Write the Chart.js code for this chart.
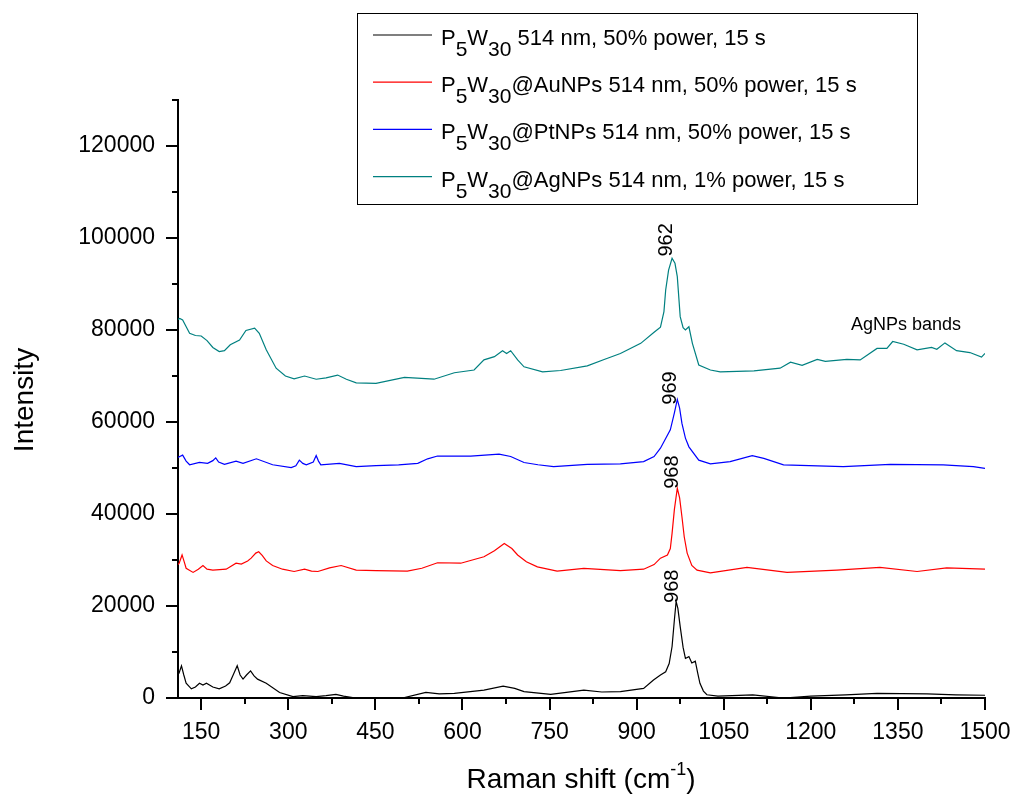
<!DOCTYPE html>
<html>
<head>
<meta charset="utf-8">
<title>Raman spectra</title>
<script src="https://cdn.jsdelivr.net/npm/chart.js@4.4.1/dist/chart.umd.min.js"></script>
<style>
  html, body { margin: 0; padding: 0; background: #fff; }
  #wrap { width: 1014px; height: 796px; position: relative; }
</style>
</head>
<body>
<div id="wrap"><canvas id="chart" width="1014" height="796"></canvas></div>
<script>
"use strict";

// ── Data ──────────────────────────────────────────────────────────────────
const blackX = [110, 112, 116, 120, 124, 133, 140, 147, 153, 159, 170, 181, 192, 199, 205, 212, 217, 222, 228, 235, 241, 247, 262, 285, 308, 325, 348, 365, 382, 395, 411, 451, 500, 537, 560, 586, 637, 670, 690, 706, 752, 809, 840, 872, 912, 929, 941, 950, 956, 961, 965, 968, 971, 975, 980, 984, 990, 995, 1001, 1005, 1009, 1015, 1021, 1040, 1100, 1153, 1200, 1260, 1314, 1400, 1450, 1500];
const blackY = [5000, 5500, 7000, 5000, 3200, 2000, 2400, 3200, 2800, 3200, 2400, 2000, 2600, 3300, 5000, 7000, 5000, 4100, 5000, 5900, 4800, 4100, 3200, 1200, 300, 500, 300, 500, 800, 400, 100, 0, 100, 1200, 900, 1000, 1700, 2600, 2100, 1400, 800, 1700, 1300, 1400, 2100, 3900, 5000, 5700, 7500, 11200, 17000, 21000, 19500, 15500, 11000, 8600, 9000, 7600, 8000, 5500, 3200, 1500, 700, 400, 700, 0, 400, 700, 1000, 900, 700, 600];

const redX = [110, 112, 117, 121, 124, 136, 145, 153, 160, 170, 193, 210, 219, 230, 236, 244, 249, 255, 262, 273, 290, 310, 328, 340, 351, 371, 391, 417, 451, 505, 530, 557, 597, 637, 655, 672, 685, 695, 710, 729, 763, 809, 872, 912, 930, 941, 953, 958, 961, 965, 970, 974, 978, 982, 987, 995, 1004, 1027, 1090, 1159, 1245, 1319, 1383, 1434, 1500];
const redY = [29000, 29300, 31100, 29500, 28200, 27300, 28000, 28800, 28000, 27800, 28000, 29300, 29100, 29800, 30400, 31500, 31800, 31000, 29800, 28800, 28000, 27500, 28000, 27600, 27500, 28300, 28800, 27800, 27700, 27600, 28200, 29400, 29300, 30700, 32000, 33600, 32500, 31100, 29600, 28500, 27600, 28200, 27700, 28000, 29000, 30400, 31100, 32500, 35800, 41000, 45600, 43500, 39400, 35000, 31500, 28800, 27800, 27200, 28400, 27300, 27800, 28400, 27500, 28300, 28000];

const blueX = [110, 113, 118, 124, 130, 147, 161, 170, 175, 180, 190, 210, 222, 245, 273, 305, 313, 319, 325, 331, 343, 348, 352, 356, 388, 417, 451, 490, 523, 540, 557, 614, 663, 683, 706, 730, 757, 815, 872, 912, 930, 941, 958, 965, 970, 974, 978, 984, 990, 1007, 1027, 1061, 1099, 1119, 1153, 1256, 1337, 1428, 1480, 1500];
const blueY = [52300, 52500, 52800, 51500, 50700, 51200, 51000, 51600, 52200, 51300, 50800, 51500, 51000, 52000, 50700, 50100, 50500, 51700, 51000, 50700, 51300, 52700, 51500, 50700, 51000, 50300, 50500, 50700, 51000, 52000, 52600, 52600, 53000, 52500, 51200, 50700, 50300, 50800, 50900, 51400, 52500, 54300, 58300, 62000, 64900, 63000, 59700, 56500, 54600, 51700, 50900, 51400, 52700, 52100, 50700, 50300, 50800, 50700, 50300, 49900];

const greenX = [110, 113, 118, 125, 130, 140, 150, 160, 170, 181, 190, 200, 216, 227, 242, 250, 262, 279, 295, 310, 328, 348, 365, 385, 400, 417, 451, 500, 551, 586, 620, 637, 655, 669, 676, 683, 695, 706, 738, 769, 815, 844, 872, 907, 930, 941, 947, 950, 955, 961, 966, 970, 975, 980, 984, 990, 996, 1007, 1027, 1044, 1102, 1147, 1165, 1185, 1211, 1225, 1262, 1285, 1314, 1331, 1341, 1360, 1383, 1408, 1417, 1431, 1451, 1474, 1494, 1500];
const greenY = [82300, 82500, 82200, 80500, 79300, 78800, 78700, 77700, 76200, 75300, 75500, 76800, 77800, 79900, 80400, 79300, 75700, 71700, 70000, 69400, 70000, 69300, 69600, 70200, 69300, 68500, 68400, 69700, 69300, 70700, 71300, 73500, 74200, 75500, 74900, 75500, 73500, 72000, 70900, 71200, 72200, 73600, 74900, 77100, 79500, 80600, 84000, 88700, 93000, 95600, 94500, 91600, 82900, 80500, 80000, 80700, 77100, 72400, 71300, 70900, 71100, 71700, 73000, 72300, 73600, 73200, 73600, 73500, 76000, 76000, 77500, 76900, 75700, 76200, 75800, 77200, 75500, 75100, 74100, 74900];

const seriesColors = ["#000000", "#ff0000", "#0000ff", "#008080"];
// legend rows: [text, subscript?]
const legendRows = [
  [["P", 0], ["5", 1], ["W", 0], ["30", 1], [" 514 nm, 50% power, 15 s", 0]],
  [["P", 0], ["5", 1], ["W", 0], ["30", 1], ["@AuNPs 514 nm, 50% power, 15 s", 0]],
  [["P", 0], ["5", 1], ["W", 0], ["30", 1], ["@PtNPs 514 nm, 50% power, 15 s", 0]],
  [["P", 0], ["5", 1], ["W", 0], ["30", 1], ["@AgNPs 514 nm, 1% power, 15 s", 0]],
];

// ticks
const xMajor = [150, 300, 450, 600, 750, 900, 1050, 1200, 1350, 1500];
const xMinor = [225, 375, 525, 675, 825, 975, 1125, 1275, 1425];
const yMajor = [0, 20000, 40000, 60000, 80000, 100000, 120000];
const yMinor = [10000, 30000, 50000, 70000, 90000, 110000, 130000];

// peak labels (rotated) and free text
const peakText = ["962", "969", "968", "968"];
const peakX    = [951, 958, 962, 962];
const peakY    = [99600, 67400, 49100, 24300];
const noteText = "AgNPs bands";
const noteX = 1364, noteY = 81100;

const FONT = "'Liberation Sans', Arial, sans-serif";

// ── Helpers ───────────────────────────────────────────────────────────────
function pts(xs, ys) { return xs.map((x, i) => ({ x: x, y: ys[i] })); }

function lineSet(xs, ys, color) {
  return {
    data: pts(xs, ys),
    borderColor: color,
    borderWidth: 1.2,
    pointRadius: 0,
    tension: 0,
    fill: false,
  };
}

// ── Custom drawing: ticks, legend, titles, annotations ────────────────────
const decorPlugin = {
  id: "decor",
  afterDraw(chart) {
    const ctx = chart.ctx;
    const xs = chart.scales.x, ys = chart.scales.y;
    const area = chart.chartArea;

    // outward tick marks
    ctx.save();
    ctx.strokeStyle = "#000";
    ctx.lineWidth = 2;
    ctx.beginPath();
    xMajor.forEach(v => { const p = Math.round(xs.getPixelForValue(v)); ctx.moveTo(p, area.bottom); ctx.lineTo(p, area.bottom + 12); });
    xMinor.forEach(v => { const p = Math.round(xs.getPixelForValue(v)); ctx.moveTo(p, area.bottom); ctx.lineTo(p, area.bottom + 6); });
    yMajor.forEach(v => { const p = Math.round(ys.getPixelForValue(v)); ctx.moveTo(area.left, p); ctx.lineTo(area.left - 12, p); });
    yMinor.forEach(v => { const p = Math.round(ys.getPixelForValue(v)); ctx.moveTo(area.left, p); ctx.lineTo(area.left - 6, p); });
    ctx.stroke();
    ctx.restore();

    // legend box
    ctx.save();
    ctx.strokeStyle = "#000";
    ctx.lineWidth = 1;
    ctx.fillStyle = "#fff";
    ctx.fillRect(357, 13, 560, 191);
    ctx.strokeRect(357.5, 13.5, 560, 191);
    legendRows.forEach((row, i) => {
      const base = 45 + i * 47.2;
      ctx.strokeStyle = seriesColors[i];
      ctx.lineWidth = 1.2;
      ctx.beginPath();
      ctx.moveTo(373, base - 10);
      ctx.lineTo(432, base - 10);
      ctx.stroke();
      let x = 441;
      ctx.fillStyle = "#000";
      ctx.textBaseline = "alphabetic";
      ctx.textAlign = "left";
      row.forEach(([t, sub]) => {
        ctx.font = (sub ? "21px " : "22px ") + FONT;
        ctx.fillText(t, x, base + (sub ? 11 : 0));
        x += ctx.measureText(t).width;
      });
    });
    ctx.restore();

    // axis titles
    ctx.save();
    ctx.fillStyle = "#000";
    ctx.font = "28px " + FONT;
    ctx.textBaseline = "alphabetic";
    ctx.textAlign = "center";
    ctx.translate(33, 400);
    ctx.rotate(-Math.PI / 2);
    ctx.fillText("Intensity", 0, 0);
    ctx.restore();

    ctx.save();
    ctx.fillStyle = "#000";
    ctx.textBaseline = "alphabetic";
    ctx.textAlign = "left";
    const partA = "Raman shift (cm", sup = "-1", partB = ")";
    ctx.font = "28px " + FONT;
    const wA = ctx.measureText(partA).width, wB = ctx.measureText(partB).width;
    ctx.font = "18px " + FONT;
    const wS = ctx.measureText(sup).width;
    let tx = 581 - (wA + wS + wB) / 2;
    ctx.font = "28px " + FONT;
    ctx.fillText(partA, tx, 788);
    tx += wA;
    ctx.font = "18px " + FONT;
    ctx.fillText(sup, tx, 775);
    tx += wS;
    ctx.font = "28px " + FONT;
    ctx.fillText(partB, tx, 788);
    ctx.restore();

    // peak labels
    ctx.save();
    ctx.fillStyle = "#000";
    ctx.font = "20px " + FONT;
    ctx.textAlign = "center";
    ctx.textBaseline = "middle";
    peakText.forEach((t, i) => {
      ctx.save();
      ctx.translate(xs.getPixelForValue(peakX[i]), ys.getPixelForValue(peakY[i]));
      ctx.rotate(-Math.PI / 2);
      ctx.fillText(t, 0, 0);
      ctx.restore();
    });
    ctx.font = "18px " + FONT;
    ctx.fillText(noteText, xs.getPixelForValue(noteX), ys.getPixelForValue(noteY));
    ctx.restore();
  },
};

// ── Chart ─────────────────────────────────────────────────────────────────
const ctx = document.getElementById("chart").getContext("2d");

new Chart(ctx, {
  type: "line",
  data: {
    datasets: [
      lineSet(blackX, blackY, seriesColors[0]),
      lineSet(redX, redY, seriesColors[1]),
      lineSet(blueX, blueY, seriesColors[2]),
      lineSet(greenX, greenY, seriesColors[3]),
    ],
  },
  options: {
    responsive: false,
    animation: false,
    parsing: false,
    layout: { padding: { top: 100, right: 29, left: 0, bottom: 0 } },
    plugins: {
      legend: { display: false },
      tooltip: { enabled: false },
    },
    scales: {
      x: {
        type: "linear",
        min: 110,
        max: 1500,
        afterBuildTicks: s => { s.ticks = xMajor.map(v => ({ value: v })); },
        afterFit: s => { s.height = 98; s.paddingLeft = 0; s.paddingRight = 0; },
        grid: { display: false },
        border: { display: true, color: "#000", width: 2 },
        ticks: {
          color: "#000",
          font: { family: FONT, size: 23 },
          padding: 13,
          maxRotation: 0,
          autoSkip: false,
          callback: v => String(v),
        },
      },
      y: {
        type: "linear",
        min: 0,
        max: 130000,
        afterBuildTicks: s => { s.ticks = yMajor.map(v => ({ value: v })); },
        afterFit: s => { s.width = 178; s.paddingTop = 0; s.paddingBottom = 0; },
        grid: { display: false },
        border: { display: true, color: "#000", width: 2 },
        ticks: {
          color: "#000",
          font: { family: FONT, size: 23 },
          padding: 15,
          autoSkip: false,
          callback: v => String(v),
        },
      },
    },
  },
  plugins: [decorPlugin],
});
</script>
</body>
</html>
